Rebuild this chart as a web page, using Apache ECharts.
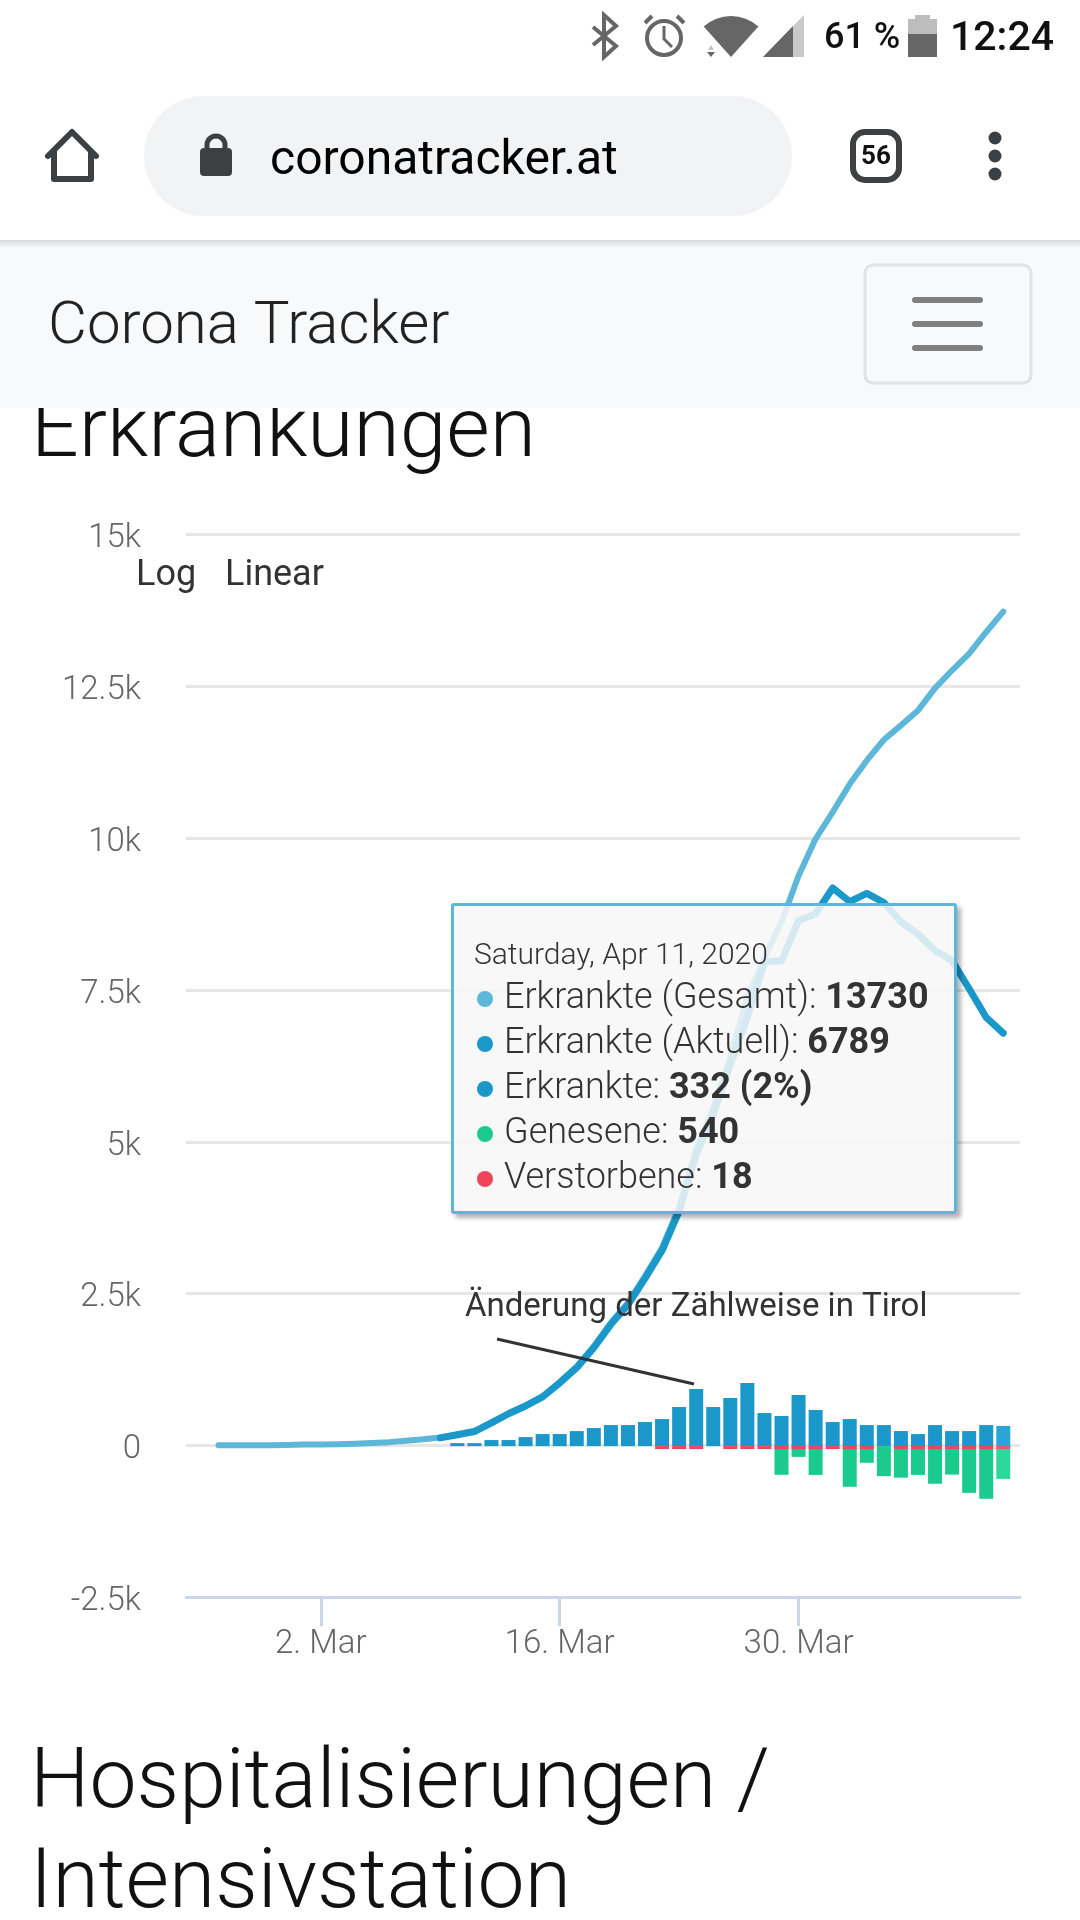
<!DOCTYPE html>
<html>
<head>
<meta charset="utf-8">
<title>Corona Tracker</title>
<script src="https://cdn.jsdelivr.net/npm/echarts@6/dist/echarts.min.js"></script>
<style>
  html, body { margin: 0; padding: 0; background: #fff; }
  #main { width: 1080px; height: 1920px; }
</style>
</head>
<body>
<div id="main"></div>
<script>
// Tage: 25. Feb - 11. Apr 2020
var days = ['2020-02-25','2020-02-26','2020-02-27','2020-02-28','2020-02-29','2020-03-01','2020-03-02','2020-03-03','2020-03-04','2020-03-05','2020-03-06','2020-03-07','2020-03-08','2020-03-09','2020-03-10','2020-03-11','2020-03-12','2020-03-13','2020-03-14','2020-03-15','2020-03-16','2020-03-17','2020-03-18','2020-03-19','2020-03-20','2020-03-21','2020-03-22','2020-03-23','2020-03-24','2020-03-25','2020-03-26','2020-03-27','2020-03-28','2020-03-29','2020-03-30','2020-03-31','2020-04-01','2020-04-02','2020-04-03','2020-04-04','2020-04-05','2020-04-06','2020-04-07','2020-04-08','2020-04-09','2020-04-10','2020-04-11'];
var tickDays = ['2020-03-02','2020-03-16','2020-03-30'];
var yTicks = [-2500, 0, 2500, 5000, 7500, 10000, 12500, 15000];

var gesamt = [2,2,3,5,9,14,18,21,29,41,55,79,102,131,182,236,380,530,660,810,1045,1300,1635,2020,2350,2790,3260,3920,4876,5560,6398,7380,8030,8620,9380,9990,10430,10890,11280,11620,11857,12104,12470,12764,13040,13395,13730];
var aktuell = [null,null,null,null,null,null,null,null,null,null,null,null,null,125,176,230,372,522,650,800,1030,1280,1610,1995,2315,2750,3210,3860,4790,5450,6270,7050,7965,7980,8640,8755,9180,8955,9090,8940,8620,8420,8150,7980,7520,7047,6789];
var erkrankte = [null,null,null,null,null,null,null,null,null,null,null,null,null,null,49,49,99,99,148,198,198,247,297,346,346,396,445,643,940,643,792,1040,544,495,841,594,396,445,346,346,247,198,346,247,247,346,332];
var genesene = [null,null,null,null,null,null,null,null,null,null,null,null,null,null,null,null,null,null,null,null,null,null,null,null,null,null,null,null,null,null,null,null,null,473,178,475,null,670,275,495,520,475,620,470,770,868,540];
var verstorbene = [null,null,null,null,null,null,null,null,null,null,null,null,null,null,null,null,null,null,null,null,null,null,null,null,null,null,8,10,12,null,14,18,22,22,20,20,22,23,22,null,24,20,23,25,22,23,18];

var LAST = days.length - 1;

// x-Achse rechnet in Tagen ab dem ersten Datum
function pairs(values, lastColor) {
  return values.map(function(v, i) {
    var item = { value: [i, v] };
    if (lastColor && i === LAST) item.itemStyle = { color: lastColor };
    return item;
  });
}

function negative(values) {
  return values.map(function(v) { return v === null ? null : -v; });
}

var tickIndex = tickDays.map(function(d) { return days.indexOf(d); });

function label(x, y, text, font, fill, z, align) {
  return { type: 'text', z: z || 10, style: { x: x, y: y, text: text, font: font, fill: fill, align: align || 'left', verticalAlign: 'middle' } };
}

var ICON = '#666666';
var DARK = '#3c4043';
var chrome = [
  // Titel unter der Navigationsleiste
  label(31, 435, 'Erkrankungen', '300 84px Roboto', '#111', 10),
  label(30, 1786, 'Hospitalisierungen /', '300 84px Roboto', '#111', 10),
  label(30, 1886, 'Intensivstation', '300 84px Roboto', '#111', 10),
  // Browser + Navbar
  { type: 'rect', z: 20, shape: { x: 0, y: 0, width: 1080, height: 240 }, style: { fill: '#fff' } },
  { type: 'rect', z: 21, shape: { x: 0, y: 240, width: 1080, height: 168 }, style: { fill: '#f8f9fa' } },
  { type: 'rect', z: 22, shape: { x: 0, y: 240, width: 1080, height: 8 }, style: { fill: new echarts.graphic.LinearGradient(0, 0, 0, 1, [{ offset: 0, color: '#d8d9da' }, { offset: 1, color: '#f8f9fa' }]) } },
  { type: 'rect', z: 22, shape: { x: 144, y: 96, width: 648, height: 120, r: 60 }, style: { fill: '#f1f3f4' } },
  label(270, 162, 'coronatracker.at', '400 48px Roboto', '#000', 23),
  { type: 'polyline', z: 23, shape: { points: [[48, 156], [72, 132], [96, 156]] }, style: { stroke: DARK, lineWidth: 6, fill: 'none', lineJoin: 'round', lineCap: 'round' } },
  { type: 'polyline', z: 23, shape: { points: [[54, 150], [54, 179], [91, 179], [91, 150]] }, style: { stroke: DARK, lineWidth: 6, fill: 'none', lineJoin: 'round' } },
  { type: 'rect', z: 23, shape: { x: 200, y: 148, width: 32, height: 28, r: 4 }, style: { fill: DARK } },
  { type: 'arc', z: 23, shape: { cx: 216, cy: 145, r: 9, startAngle: Math.PI, endAngle: 0 }, style: { stroke: DARK, lineWidth: 5, fill: 'none' } },
  { type: 'line', z: 23, shape: { x1: 207, y1: 145, x2: 207, y2: 150 }, style: { stroke: DARK, lineWidth: 5 } },
  { type: 'line', z: 23, shape: { x1: 225, y1: 145, x2: 225, y2: 150 }, style: { stroke: DARK, lineWidth: 5 } },
  { type: 'rect', z: 23, shape: { x: 853, y: 132, width: 46, height: 48, r: 12 }, style: { fill: 'none', stroke: DARK, lineWidth: 6 } },
  label(876, 157, '56', '700 26px Roboto', '#111', 23, 'center'),
  { type: 'circle', z: 23, shape: { cx: 995, cy: 138, r: 6.5 }, style: { fill: DARK } },
  { type: 'circle', z: 23, shape: { cx: 995, cy: 156, r: 6.5 }, style: { fill: DARK } },
  { type: 'circle', z: 23, shape: { cx: 995, cy: 174, r: 6.5 }, style: { fill: DARK } },
  label(48, 328, 'Corona Tracker', '300 60px Roboto', '#222', 23),
  { type: 'rect', z: 23, shape: { x: 865, y: 265, width: 166, height: 118, r: 8 }, style: { fill: 'none', stroke: '#e2e3e4', lineWidth: 3 } },
  { type: 'rect', z: 23, shape: { x: 912, y: 297, width: 71, height: 6, r: 3 }, style: { fill: '#808080' } },
  { type: 'rect', z: 23, shape: { x: 912, y: 321, width: 71, height: 6, r: 3 }, style: { fill: '#808080' } },
  { type: 'rect', z: 23, shape: { x: 912, y: 345, width: 71, height: 6, r: 3 }, style: { fill: '#808080' } },
  // Statusleiste
  { type: 'polyline', z: 23, shape: { points: [[593, 27], [616, 46], [604, 57], [604, 15], [616, 26], [593, 45]] }, style: { stroke: ICON, lineWidth: 4, fill: 'none' } },
  { type: 'circle', z: 23, shape: { cx: 664, cy: 38, r: 17 }, style: { stroke: ICON, lineWidth: 4, fill: 'none' } },
  { type: 'polyline', z: 23, shape: { points: [[664, 26], [664, 39], [672, 47]] }, style: { stroke: ICON, lineWidth: 3, fill: 'none' } },
  { type: 'line', z: 23, shape: { x1: 645, y1: 23, x2: 652, y2: 16 }, style: { stroke: ICON, lineWidth: 4 } },
  { type: 'line', z: 23, shape: { x1: 684, y1: 23, x2: 677, y2: 16 }, style: { stroke: ICON, lineWidth: 4 } },
  { type: 'sector', z: 23, shape: { cx: 731, cy: 57, r: 41, r0: 0, startAngle: -2.30, endAngle: -0.84 }, style: { fill: ICON } },
  { type: 'polygon', z: 23, shape: { points: [[708, 50], [711, 45], [714, 50]] }, style: { fill: '#c4c4c4' } },
  { type: 'polygon', z: 23, shape: { points: [[707, 52], [711, 57], [715, 52]] }, style: { fill: ICON } },
  { type: 'polygon', z: 23, shape: { points: [[763, 57], [804, 15], [804, 57]] }, style: { fill: '#c9c9c9' } },
  { type: 'polygon', z: 23, shape: { points: [[763, 57], [793, 26], [793, 57]] }, style: { fill: ICON } },
  label(824, 39, '61 %', '500 36px Roboto', '#111', 23),
  { type: 'rect', z: 23, shape: { x: 915, y: 15, width: 15, height: 4 }, style: { fill: '#bdbdbd' } },
  { type: 'rect', z: 23, shape: { x: 908, y: 19, width: 29, height: 15 }, style: { fill: '#bdbdbd' } },
  { type: 'rect', z: 23, shape: { x: 908, y: 34, width: 29, height: 23 }, style: { fill: ICON } },
  label(950, 40, '12:24', '500 41px Roboto', '#111', 23),
  // Schalter und Anmerkung im Diagramm
  label(136, 576, 'Log', '400 36px Roboto', '#333', 10),
  label(225, 576, 'Linear', '400 36px Roboto', '#333', 10),
  label(465, 1308, 'Änderung der Zählweise in Tirol', '400 33px Roboto', '#333', 10),
  { type: 'line', z: 10, shape: { x1: 497, y1: 1339, x2: 694, y2: 1384 }, style: { stroke: '#333', lineWidth: 3 } }
];

function row(color, name, value) {
  return '<div style="height:45px;line-height:45px;white-space:nowrap;">' +
    '<span style="display:inline-block;width:16px;height:16px;border-radius:8px;background:' + color + ';margin:0 11px 0 4px;vertical-align:1px;"></span>' +
    name + ': <b style="font-weight:700;">' + value + '</b></div>';
}

function tooltipHtml() {
  var share = Math.round(erkrankte[LAST] / gesamt[LAST] * 100);
  return '<div style="font:300 30px Roboto;color:#333;height:40px;line-height:40px;padding-left:1px;">Saturday, Apr 11, 2020</div>' +
    '<div style="font:300 36px Roboto;color:#333;">' +
    row('#5cb7d9', 'Erkrankte (Gesamt)', gesamt[LAST]) +
    row('#1a98c9', 'Erkrankte (Aktuell)', aktuell[LAST]) +
    row('#1a98c9', 'Erkrankte', erkrankte[LAST] + ' (' + share + '%)') +
    row('#1bcb8e', 'Genesene', genesene[LAST]) +
    row('#ee4558', 'Verstorbene', verstorbene[LAST]) +
    '</div>';
}

var myChart = echarts.init(document.getElementById('main'));
var option = {
  animation: false,
  backgroundColor: '#fff',
  graphic: { elements: chrome },
  grid: { left: 186, right: 60, top: 534.5, bottom: 322.7, containLabel: false },
  tooltip: {
    trigger: 'axis',
    triggerOn: 'none',
    alwaysShowContent: true,
    axisPointer: { type: 'none' },
    transitionDuration: 0,
    position: [451, 903],
    padding: [28, 20, 0, 19],
    borderColor: '#5cb7d9',
    borderWidth: 3,
    borderRadius: 3,
    backgroundColor: 'rgba(247,247,247,0.85)',
    extraCssText: 'box-shadow:4px 4px 4px rgba(0,0,0,0.3);width:506px;height:311px;box-sizing:border-box;',
    formatter: tooltipHtml
  },
  xAxis: {
    type: 'value',
    min: -1.905,
    max: LAST + 0.98,
    axisLine: { onZero: false, lineStyle: { color: '#ccd6eb', width: 3 } },
    axisTick: { length: 29, customValues: tickIndex, lineStyle: { color: '#ccd6eb', width: 3 } },
    axisLabel: {
      customValues: tickIndex,
      margin: 31,
      color: '#666',
      fontFamily: 'Roboto',
      fontWeight: 300,
      fontSize: 33,
      formatter: function(v) { return parseInt(days[v].slice(8), 10) + '. Mar'; }
    },
    splitLine: { show: false }
  },
  yAxis: [{
    type: 'value',
    min: yTicks[0],
    max: yTicks[yTicks.length - 1],
    interval: 2500,
    axisLine: { show: false },
    axisTick: { show: false },
    axisLabel: {
      margin: 45,
      verticalAlign: 'top',
      padding: [-12, 0, 0, 0],
      color: '#666',
      fontFamily: 'Roboto',
      fontWeight: 300,
      fontSize: 33,
      formatter: function(v) { return v === 0 ? '0' : (v / 1000) + 'k'; }
    },
    splitLine: { lineStyle: { color: '#e6e6e6', width: 3 } }
  }, {
    // Balken sitzen im Original knapp unter der Nulllinie
    type: 'value',
    show: false,
    min: yTicks[0] + 10,
    max: yTicks[yTicks.length - 1] + 10,
    splitLine: { show: false }
  }],
  series: [
    { name: 'Erkrankte', type: 'bar', yAxisIndex: 1, stack: 'delta', barWidth: 14, z: 2, emphasis: { disabled: true }, itemStyle: { color: '#1a98c9' }, data: pairs(erkrankte, '#29a6d6') },
    { name: 'Verstorbene', type: 'bar', yAxisIndex: 1, stack: 'delta', barWidth: 14, barMinHeight: 3, z: 3, emphasis: { disabled: true }, itemStyle: { color: '#ee4558' }, data: pairs(negative(verstorbene), '#f0566a') },
    { name: 'Genesene', type: 'bar', yAxisIndex: 1, stack: 'delta', barWidth: 14, z: 2, emphasis: { disabled: true }, itemStyle: { color: '#1bcb8e' }, data: pairs(negative(genesene), '#2cd89b') },
    { name: 'Erkrankte (Gesamt)', type: 'line', symbol: 'none', z: 4, emphasis: { disabled: true }, lineStyle: { color: '#5cb7d9', width: 6, cap: 'round', join: 'round' }, data: pairs(gesamt) },
    { name: 'Erkrankte (Aktuell)', type: 'line', symbol: 'none', z: 5, emphasis: { disabled: true }, lineStyle: { color: '#1a98c9', width: 7, cap: 'round', join: 'round' }, data: pairs(aktuell) }
  ]
};
myChart.setOption(option);
myChart.dispatchAction({ type: 'showTip', seriesIndex: 3, dataIndex: LAST });
</script>
</body>
</html>
